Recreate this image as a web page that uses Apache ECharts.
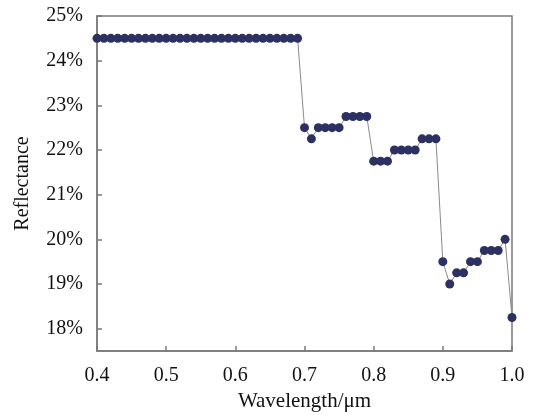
<!DOCTYPE html>
<html><head><meta charset="utf-8">
<script src="https://cdn.jsdelivr.net/npm/echarts@6/dist/echarts.min.js"></script>
<style>html,body{margin:0;padding:0;background:#fff}#c{width:534px;height:415px}</style>
</head><body><div id="c"></div>
<script>
var wavelength = [0.40,0.41,0.42,0.43,0.44,0.45,0.46,0.47,0.48,0.49,
  0.50,0.51,0.52,0.53,0.54,0.55,0.56,0.57,0.58,0.59,
  0.60,0.61,0.62,0.63,0.64,0.65,0.66,0.67,0.68,0.69,
  0.70,0.71,0.72,0.73,0.74,0.75,0.76,0.77,0.78,0.79,
  0.80,0.81,0.82,0.83,0.84,0.85,0.86,0.87,0.88,0.89,
  0.90,0.91,0.92,0.93,0.94,0.95,0.96,0.97,0.98,0.99,1.00];
var reflectance = [24.5,24.5,24.5,24.5,24.5,24.5,24.5,24.5,24.5,24.5,
  24.5,24.5,24.5,24.5,24.5,24.5,24.5,24.5,24.5,24.5,
  24.5,24.5,24.5,24.5,24.5,24.5,24.5,24.5,24.5,24.5,
  22.5,22.25,22.5,22.5,22.5,22.5,22.75,22.75,22.75,22.75,
  21.75,21.75,21.75,22.0,22.0,22.0,22.0,22.25,22.25,22.25,
  19.5,19.0,19.25,19.25,19.5,19.5,19.75,19.75,19.75,20.0,18.25];
var yTicks = [18,19,20,21,22,23,24,25];

var chart = echarts.init(document.getElementById('c'), null, {renderer:'canvas'});
var font = '"Liberation Serif", "Times New Roman", serif';
var pts = wavelength.map(function(w,i){return [w, reflectance[i]];});
chart.setOption({
  animation:false,
  grid:{left:97,right:22,top:16,bottom:64,outerBoundsMode:'none',containLabel:false,
    show:true,borderColor:'#7a7a7a',borderWidth:1.5},
  xAxis:{type:'value',min:0.4,max:1.0,interval:0.1,
    name:'Wavelength/μm',nameLocation:'middle',nameGap:35,
    nameTextStyle:{fontFamily:font,fontSize:21,color:'#111'},
    axisLine:{show:true,lineStyle:{color:'#7a7a7a',width:1.5}},
    axisTick:{show:true,inside:true,length:5,lineStyle:{color:'#7a7a7a',width:1.5}},
    axisLabel:{fontFamily:font,fontSize:20,color:'#111',margin:15,
      formatter:function(v){return v.toFixed(1);}},
    splitLine:{show:false}},
  yAxis:{type:'value',min:17.5,max:25,
    name:'Reflectance',nameLocation:'middle',nameGap:64,
    nameTextStyle:{fontFamily:font,fontSize:20,color:'#111'},
    axisLine:{show:true,lineStyle:{color:'#7a7a7a',width:1.5}},
    axisTick:{show:true,inside:true,length:5,customValues:yTicks,lineStyle:{color:'#7a7a7a',width:1.5}},
    axisLabel:{fontFamily:font,fontSize:20,color:'#111',margin:14,customValues:yTicks,
      formatter:function(v){return Math.round(v)+'%';}},
    splitLine:{show:false}},
  series:[{type:'line',data:pts,symbol:'circle',symbolSize:9,
    lineStyle:{color:'#8a8a8a',width:1},
    itemStyle:{color:'#2c3063',borderWidth:0}}]
});
</script></body></html>
